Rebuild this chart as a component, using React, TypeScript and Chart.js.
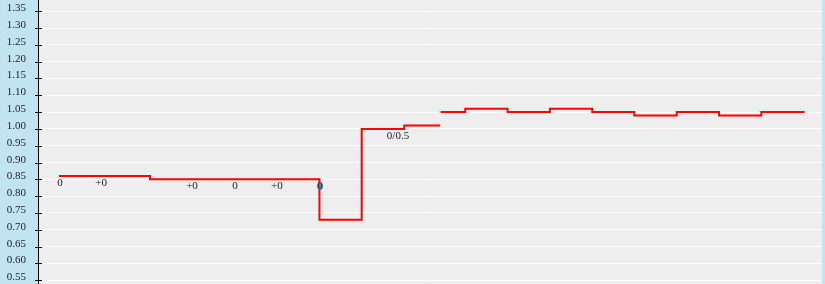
import { useEffect, useRef } from "react";
import { Chart, registerables } from "chart.js";

Chart.register(...registerables);

// time positions (0..100 across the plot) and odds values
const seriesAX = [2.68, 14.29, 35.9, 41.29, 46.72, 51.3];
const seriesAY = [0.86, 0.85, 0.73, 1.0, 1.01, 1.01];
const seriesBX = [51.36, 54.5, 59.9, 65.3, 70.7, 76.06, 81.47, 86.86, 92.26, 97.79];
const seriesBY = [1.05, 1.06, 1.05, 1.06, 1.05, 1.04, 1.05, 1.04, 1.05, 1.05];

// handicap annotations along the line
const labelX = [2.81, 8.04, 19.64, 25.13, 30.48, 35.97, 45.92];
const labelY = [0.86, 0.86, 0.85, 0.85, 0.85, 0.85, 1.0];
const labelText = ["0", "+0", "+0", "0", "+0", "0", "0/0.5"];
const labelDot = [false, false, false, false, false, true, false];

const tickValues = [0.55, 0.6, 0.65, 0.7, 0.75, 0.8, 0.85, 0.9, 0.95, 1.0, 1.05, 1.1, 1.15, 1.2, 1.25, 1.3, 1.35];
const yMin = 0.5387;
const yMax = 1.3833;

const PANEL = "#c1e4f0";
const PLOT_BG = "#eeeeee";
const FONT = '11px "Liberation Serif", serif';

const decorPlugin = {
  id: "decor",
  beforeDraw(chart: any) {
    const { ctx, chartArea, width, height } = chart;
    ctx.save();
    ctx.fillStyle = PANEL;
    ctx.fillRect(0, 0, chartArea.left, height);
    ctx.fillRect(chartArea.right, 0, width - chartArea.right, height);
    ctx.fillStyle = PLOT_BG;
    ctx.fillRect(chartArea.left, chartArea.top, chartArea.right - chartArea.left, chartArea.bottom - chartArea.top);
    ctx.restore();
  },
  afterDraw(chart: any) {
    const { ctx, chartArea } = chart;
    const ys = chart.scales.y;
    const xs = chart.scales.x;
    ctx.save();
    // tick marks and tick labels
    ctx.strokeStyle = "#000";
    ctx.lineWidth = 1;
    ctx.font = FONT;
    ctx.fillStyle = "#222233";
    ctx.textAlign = "right";
    ctx.textBaseline = "middle";
    tickValues.forEach((v) => {
      const py = Math.round(ys.getPixelForValue(v)) + 0.5;
      ctx.beginPath();
      ctx.moveTo(chartArea.left - 3, py);
      ctx.lineTo(chartArea.left + 4, py);
      ctx.stroke();
      ctx.fillText(v.toFixed(2), chartArea.left - 12, py - 3);
    });
    // annotations
    ctx.textAlign = "center";
    labelText.forEach((t, i) => {
      const px = xs.getPixelForValue(labelX[i]);
      const py = ys.getPixelForValue(labelY[i]) + 7;
      if (labelDot[i]) {
        ctx.fillStyle = "rgba(70,130,180,0.75)";
        ctx.beginPath();
        ctx.ellipse(px, py, 3, 4, 0, 0, Math.PI * 2);
        ctx.fill();
      }
      ctx.fillStyle = "#222222";
      ctx.fillText(t, px, py);
    });
    ctx.restore();
  },
};

export default function App() {
  const ref = useRef<HTMLCanvasElement | null>(null);
  useEffect(() => {
    document.body.style.margin = "0";
    document.body.style.overflow = "hidden";
    const canvas = ref.current;
    if (!canvas) return;
    const chart = new Chart(canvas, {
      type: "line",
      data: {
        datasets: [
          {
            data: seriesAX.map((x, i) => ({ x, y: seriesAY[i] })),
            borderColor: "#ff0000",
            borderWidth: 2,
            pointRadius: 0,
            stepped: true,
            fill: false,
          },
          {
            data: seriesBX.map((x, i) => ({ x, y: seriesBY[i] })),
            borderColor: "#ff0000",
            borderWidth: 2,
            pointRadius: 0,
            stepped: true,
            fill: false,
          },
        ],
      },
      options: {
        animation: false,
        responsive: false,
        maintainAspectRatio: false,
        events: [],
        layout: { padding: { left: 0, right: 3, top: 0, bottom: 0 } },
        plugins: { legend: { display: false }, tooltip: { enabled: false } },
        scales: {
          x: { type: "linear", min: 0, max: 100, display: false },
          y: {
            type: "linear",
            min: yMin,
            max: yMax,
            afterBuildTicks: (s: any) => {
              s.ticks = tickValues.map((v) => ({ value: v }));
            },
            afterFit: (s: any) => {
              s.width = 38;
            },
            ticks: { display: false },
            grid: { color: "#ffffff", lineWidth: 1, drawTicks: false },
            border: { display: true, color: "#000000", width: 1 },
          },
        },
      },
      plugins: [decorPlugin],
    });
    return () => chart.destroy();
  }, []);
  return (
    <div style={{ width: 825, height: 284 }}>
      <canvas ref={ref} width={825} height={284} style={{ display: "block", width: 825, height: 284 }} />
    </div>
  );
}
